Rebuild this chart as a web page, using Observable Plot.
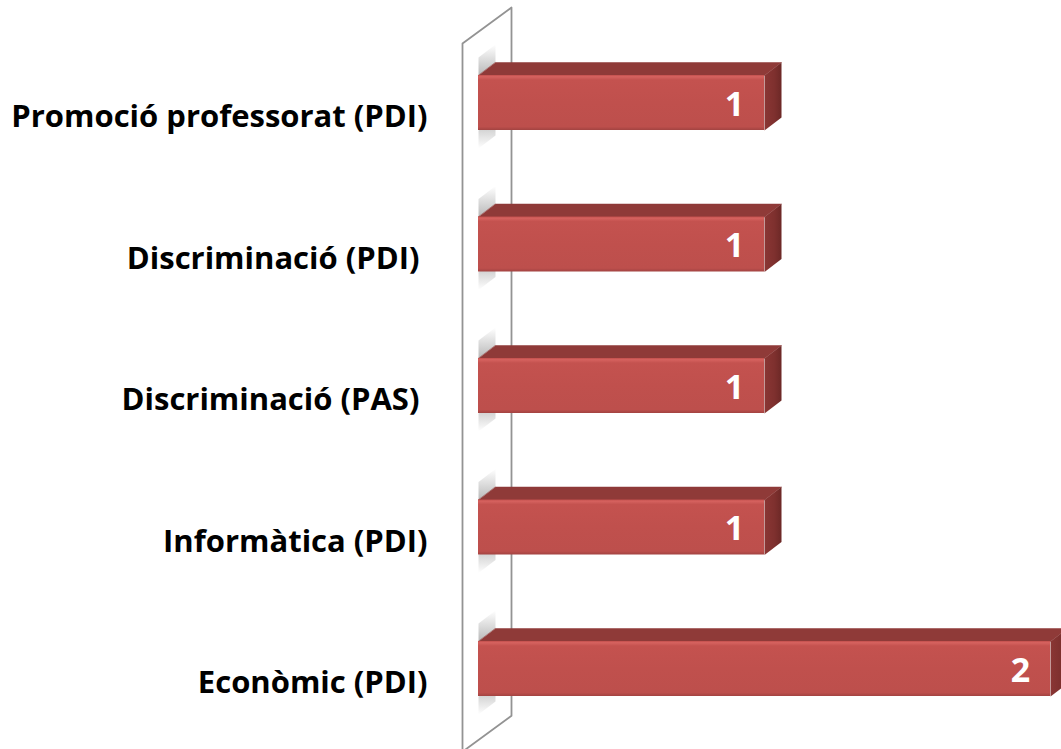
<!DOCTYPE html>
<html><head><meta charset="utf-8">
<script src="https://cdn.jsdelivr.net/npm/d3@7"></script>
<script src="https://cdn.jsdelivr.net/npm/@observablehq/plot@0.6"></script>
<style>
body{margin:0;background:#fff}
#chart svg{display:block;background:#fff}
#chart text{white-space:pre}
</style>
</head><body><div id="chart"></div>
<script>
// Data (top to bottom as shown)
const categories = ["Promoció professorat (PDI)", "Discriminació (PDI) ", "Discriminació (PAS) ", "Informàtica (PDI)", "Econòmic (PDI)"];
const values = [1, 1, 1, 1, 2];

const W = 1061, H = 749;
const xRange = [478, 1050];
const yRange = [31.75, 739.25];
const pxPerX = (xRange[1] - xRange[0]) / 2;
const pxPerY = (yRange[1] - yRange[0]) / categories.length;
const halfBar = 27.5 / pxPerY;
const depthX = 17 / pxPerX, depthY = -13 / pxPerY;

const bars = categories.map((c, i) => ({c, i, v: values[i]}));
const topFaces = bars.flatMap(b => {
  const y0 = b.i - halfBar;
  return [
    {k: b.i, x: 0, y: y0}, {k: b.i, x: b.v, y: y0},
    {k: b.i, x: b.v + depthX, y: y0 + depthY}, {k: b.i, x: depthX, y: y0 + depthY}
  ];
});
const sideFaces = bars.flatMap(b => {
  const y0 = b.i - halfBar, y1 = b.i + halfBar;
  return [
    {k: b.i, x: b.v, y: y0}, {k: b.i, x: b.v + depthX, y: y0 + depthY},
    {k: b.i, x: b.v + depthX, y: y1 + depthY}, {k: b.i, x: b.v, y: y1}
  ];
});
// soft shadows cast on the side wall, above and below each bar
const shadeH = 18 / pxPerY;
const shadeAbove = bars.flatMap(b => {
  const y0 = b.i - halfBar;
  return [
    {k: b.i, x: 0, y: y0 - shadeH}, {k: b.i, x: depthX, y: y0 + depthY - shadeH},
    {k: b.i, x: depthX, y: y0 + depthY}, {k: b.i, x: 0, y: y0}
  ];
});
const shadeBelow = bars.flatMap(b => {
  const y1 = b.i + halfBar;
  return [
    {k: b.i, x: 0, y: y1}, {k: b.i, x: depthX, y: y1 + depthY},
    {k: b.i, x: depthX, y: y1 + depthY + shadeH}, {k: b.i, x: 0, y: y1 + shadeH}
  ];
});

// side wall (decoration)
const wallL = -16 / pxPerX, wallR = wallL + 49 / pxPerX;
const wallRise = 36 / pxPerY;
const wallTop = -0.42, wallBottom = 4.33;
const wall = [
  {x: wallL, y: wallTop}, {x: wallR, y: wallTop - wallRise},
  {x: wallR, y: wallBottom}, {x: wallL, y: wallBottom + wallRise}
];

const fontFamily = "'Open Sans', Lato, sans-serif";

const chart = Plot.plot({
  width: W, height: H, margin: 0,
  x: {domain: [0, 2], range: xRange, axis: null},
  y: {domain: [-0.5, categories.length - 0.5], range: yRange, axis: null},
  marks: [
    Plot.line(wall, {x: "x", y: "y", curve: "linear-closed", fill: "#fff", stroke: "#939393", strokeWidth: 1.8}),
    Plot.line(shadeAbove, {x: "x", y: "y", z: "k", curve: "linear-closed", fill: "url(#shadowUp)", stroke: "none"}),
    Plot.line(shadeBelow, {x: "x", y: "y", z: "k", curve: "linear-closed", fill: "url(#shadowDown)", stroke: "none"}),
    Plot.line(topFaces, {x: "x", y: "y", z: "k", curve: "linear-closed", fill: "#8f3a38", stroke: "#8f3a38", strokeWidth: 0.5}),
    Plot.line(sideFaces, {x: "x", y: "y", z: "k", curve: "linear-closed", fill: "url(#sideGrad)", stroke: "none"}),
    Plot.rect(bars, {x1: 0, x2: "v", y1: d => d.i - halfBar, y2: d => d.i + halfBar, fill: "url(#frontGrad)"}),
    Plot.text(bars, {x: 0, y: "i", text: "c", textAnchor: "end", dx: -51, dy: 14.5, fontSize: 31, fontWeight: "bold", fontFamily, fill: "#000"}),
    Plot.text(bars, {x: "v", y: "i", text: d => String(d.v), dx: -30, dy: 2, fontSize: 34, fontWeight: "bold", fontFamily, fill: "#fff"})
  ]
});

const svg = d3.select(chart);
const defs = svg.insert("defs", ":first-child");
function grad(id, stops, x2 = "0", y2 = "1") {
  const g = defs.append("linearGradient").attr("id", id).attr("x1", 0).attr("y1", 0).attr("x2", x2).attr("y2", y2);
  stops.forEach(([o, c, a = 1]) => g.append("stop").attr("offset", o).attr("stop-color", c).attr("stop-opacity", a));
}
grad("frontGrad", [[0, "#c24f4c"], [0.03, "#d6625f"], [0.09, "#c4524f"], [0.5, "#c0504d"], [0.94, "#bd4f4c"], [1, "#a24341"]]);
grad("sideGrad", [[0, "#8a3634"], [0.6, "#7e302e"], [1, "#6c2826"]], "1", "0");
grad("shadowUp", [[0, "#a0a0a0", 0], [1, "#a0a0a0", 0.75]]);
grad("shadowDown", [[0, "#a0a0a0", 0.75], [1, "#a0a0a0", 0]]);

document.getElementById("chart").appendChild(chart);
</script>
</body></html>
